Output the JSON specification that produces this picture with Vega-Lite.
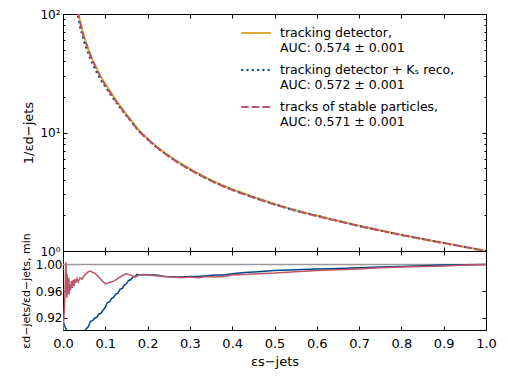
{
  "$schema": "https://vega.github.io/schema/vega-lite/v6.json",
  "padding": {"left": 19, "top": 7, "right": 5, "bottom": 5},
  "bounds": "flush",
  "spacing": 0,
  "config": {
    "font": "DejaVu Sans",
    "view": {"stroke": "#000", "strokeWidth": 1},
    "axis": {"tickColor": "#000", "labelColor": "#000", "titleColor": "#000", "grid": false, "domain": false, "tickWidth": 1, "labelFontSize": 13, "titleFontSize": 13, "titleFontWeight": "normal", "labelFont": "DejaVu Sans", "titleFont": "DejaVu Sans"}
  },
  "datasets": {
    "top": [
      {"eps":0.03,"val":135,"series":"det"},{"eps":0.034,"val":115,"series":"det"},{"eps":0.037,"val":100,"series":"det"},{"eps":0.04,"val":89,"series":"det"},{"eps":0.045,"val":75.5,"series":"det"},{"eps":0.05,"val":64.5,"series":"det"},{"eps":0.055,"val":57,"series":"det"},{"eps":0.06,"val":50.5,"series":"det"},{"eps":0.07,"val":41,"series":"det"},{"eps":0.08,"val":34.5,"series":"det"},{"eps":0.09,"val":29.4,"series":"det"},{"eps":0.1,"val":25.8,"series":"det"},{"eps":0.11,"val":22.7,"series":"det"},{"eps":0.12,"val":20,"series":"det"},{"eps":0.13,"val":17.8,"series":"det"},{"eps":0.14,"val":15.9,"series":"det"},{"eps":0.15,"val":14.2,"series":"det"},{"eps":0.16,"val":12.8,"series":"det"},{"eps":0.17,"val":11.5,"series":"det"},{"eps":0.18,"val":10.4,"series":"det"},{"eps":0.19,"val":9.6,"series":"det"},{"eps":0.2,"val":8.9,"series":"det"},{"eps":0.225,"val":7.45,"series":"det"},{"eps":0.25,"val":6.4,"series":"det"},{"eps":0.275,"val":5.6,"series":"det"},{"eps":0.3,"val":4.95,"series":"det"},{"eps":0.35,"val":3.98,"series":"det"},{"eps":0.4,"val":3.33,"series":"det"},{"eps":0.45,"val":2.87,"series":"det"},{"eps":0.5,"val":2.5,"series":"det"},{"eps":0.55,"val":2.21,"series":"det"},{"eps":0.6,"val":1.99,"series":"det"},{"eps":0.65,"val":1.8,"series":"det"},{"eps":0.7,"val":1.635,"series":"det"},{"eps":0.75,"val":1.495,"series":"det"},{"eps":0.8,"val":1.37,"series":"det"},{"eps":0.85,"val":1.265,"series":"det"},{"eps":0.9,"val":1.17,"series":"det"},{"eps":0.95,"val":1.082,"series":"det"},{"eps":1.0,"val":1,"series":"det"},
      {"eps":0.03,"val":118,"series":"ks"},{"eps":0.034,"val":101,"series":"ks"},{"eps":0.037,"val":89.5,"series":"ks"},{"eps":0.04,"val":79.2,"series":"ks"},{"eps":0.045,"val":67.5,"series":"ks"},{"eps":0.05,"val":58.1,"series":"ks"},{"eps":0.055,"val":51.6,"series":"ks"},{"eps":0.06,"val":46.2,"series":"ks"},{"eps":0.07,"val":37.8,"series":"ks"},{"eps":0.08,"val":32.0,"series":"ks"},{"eps":0.09,"val":27.5,"series":"ks"},{"eps":0.1,"val":24.3,"series":"ks"},{"eps":0.11,"val":21.5,"series":"ks"},{"eps":0.12,"val":19.1,"series":"ks"},{"eps":0.13,"val":17.1,"series":"ks"},{"eps":0.14,"val":15.4,"series":"ks"},{"eps":0.15,"val":13.8,"series":"ks"},{"eps":0.16,"val":12.56,"series":"ks"},{"eps":0.17,"val":11.3,"series":"ks"},{"eps":0.18,"val":10.24,"series":"ks"},{"eps":0.19,"val":9.45,"series":"ks"},{"eps":0.2,"val":8.76,"series":"ks"},{"eps":0.225,"val":7.33,"series":"ks"},{"eps":0.25,"val":6.29,"series":"ks"},{"eps":0.275,"val":5.49,"series":"ks"},{"eps":0.3,"val":4.86,"series":"ks"},{"eps":0.35,"val":3.92,"series":"ks"},{"eps":0.4,"val":3.28,"series":"ks"},{"eps":0.45,"val":2.84,"series":"ks"},{"eps":0.5,"val":2.48,"series":"ks"},{"eps":0.55,"val":2.19,"series":"ks"},{"eps":0.6,"val":1.98,"series":"ks"},{"eps":0.65,"val":1.79,"series":"ks"},{"eps":0.7,"val":1.627,"series":"ks"},{"eps":0.75,"val":1.489,"series":"ks"},{"eps":0.8,"val":1.366,"series":"ks"},{"eps":0.85,"val":1.262,"series":"ks"},{"eps":0.9,"val":1.169,"series":"ks"},{"eps":0.95,"val":1.081,"series":"ks"},{"eps":1.0,"val":1,"series":"ks"},
      {"eps":0.03,"val":130,"series":"stable"},{"eps":0.034,"val":111.5,"series":"stable"},{"eps":0.037,"val":96.5,"series":"stable"},{"eps":0.04,"val":86.3,"series":"stable"},{"eps":0.045,"val":73.4,"series":"stable"},{"eps":0.05,"val":62.9,"series":"stable"},{"eps":0.055,"val":55.8,"series":"stable"},{"eps":0.06,"val":49.7,"series":"stable"},{"eps":0.07,"val":40.6,"series":"stable"},{"eps":0.08,"val":34.0,"series":"stable"},{"eps":0.09,"val":28.8,"series":"stable"},{"eps":0.1,"val":25.1,"series":"stable"},{"eps":0.11,"val":22.1,"series":"stable"},{"eps":0.12,"val":19.5,"series":"stable"},{"eps":0.13,"val":17.4,"series":"stable"},{"eps":0.14,"val":15.6,"series":"stable"},{"eps":0.15,"val":14.0,"series":"stable"},{"eps":0.16,"val":12.6,"series":"stable"},{"eps":0.17,"val":11.3,"series":"stable"},{"eps":0.18,"val":10.21,"series":"stable"},{"eps":0.19,"val":9.45,"series":"stable"},{"eps":0.2,"val":8.76,"series":"stable"},{"eps":0.225,"val":7.33,"series":"stable"},{"eps":0.25,"val":6.29,"series":"stable"},{"eps":0.275,"val":5.49,"series":"stable"},{"eps":0.3,"val":4.86,"series":"stable"},{"eps":0.35,"val":3.91,"series":"stable"},{"eps":0.4,"val":3.28,"series":"stable"},{"eps":0.45,"val":2.83,"series":"stable"},{"eps":0.5,"val":2.47,"series":"stable"},{"eps":0.55,"val":2.19,"series":"stable"},{"eps":0.6,"val":1.97,"series":"stable"},{"eps":0.65,"val":1.79,"series":"stable"},{"eps":0.7,"val":1.624,"series":"stable"},{"eps":0.75,"val":1.487,"series":"stable"},{"eps":0.8,"val":1.364,"series":"stable"},{"eps":0.85,"val":1.261,"series":"stable"},{"eps":0.9,"val":1.167,"series":"stable"},{"eps":0.95,"val":1.081,"series":"stable"},{"eps":1.0,"val":1,"series":"stable"}
    ],
    "ratio": [
      {"eps":0.0,"val":0.915,"series":"ks"},{"eps":0.004,"val":0.908,"series":"ks"},{"eps":0.008,"val":0.903,"series":"ks"},{"eps":0.012,"val":0.895,"series":"ks"},{"eps":0.03,"val":0.88,"series":"ks"},{"eps":0.05,"val":0.898,"series":"ks"},{"eps":0.055,"val":0.904,"series":"ks"},{"eps":0.06,"val":0.907,"series":"ks"},{"eps":0.065,"val":0.915,"series":"ks"},{"eps":0.07,"val":0.916,"series":"ks"},{"eps":0.075,"val":0.92,"series":"ks"},{"eps":0.08,"val":0.921,"series":"ks"},{"eps":0.085,"val":0.926,"series":"ks"},{"eps":0.09,"val":0.927,"series":"ks"},{"eps":0.095,"val":0.932,"series":"ks"},{"eps":0.1,"val":0.936,"series":"ks"},{"eps":0.105,"val":0.943,"series":"ks"},{"eps":0.11,"val":0.944,"series":"ks"},{"eps":0.115,"val":0.949,"series":"ks"},{"eps":0.12,"val":0.951,"series":"ks"},{"eps":0.125,"val":0.956,"series":"ks"},{"eps":0.13,"val":0.957,"series":"ks"},{"eps":0.135,"val":0.963,"series":"ks"},{"eps":0.14,"val":0.964,"series":"ks"},{"eps":0.145,"val":0.969,"series":"ks"},{"eps":0.15,"val":0.971,"series":"ks"},{"eps":0.155,"val":0.976,"series":"ks"},{"eps":0.16,"val":0.977,"series":"ks"},{"eps":0.165,"val":0.981,"series":"ks"},{"eps":0.17,"val":0.982,"series":"ks"},{"eps":0.175,"val":0.985,"series":"ks"},{"eps":0.18,"val":0.984,"series":"ks"},{"eps":0.19,"val":0.985,"series":"ks"},{"eps":0.2,"val":0.984,"series":"ks"},{"eps":0.22,"val":0.984,"series":"ks"},{"eps":0.24,"val":0.982,"series":"ks"},{"eps":0.26,"val":0.981,"series":"ks"},{"eps":0.28,"val":0.981,"series":"ks"},{"eps":0.3,"val":0.982,"series":"ks"},{"eps":0.32,"val":0.982,"series":"ks"},{"eps":0.34,"val":0.983,"series":"ks"},{"eps":0.36,"val":0.984,"series":"ks"},{"eps":0.38,"val":0.984,"series":"ks"},{"eps":0.4,"val":0.986,"series":"ks"},{"eps":0.43,"val":0.988,"series":"ks"},{"eps":0.46,"val":0.989,"series":"ks"},{"eps":0.5,"val":0.991,"series":"ks"},{"eps":0.55,"val":0.992,"series":"ks"},{"eps":0.6,"val":0.993,"series":"ks"},{"eps":0.65,"val":0.994,"series":"ks"},{"eps":0.7,"val":0.995,"series":"ks"},{"eps":0.75,"val":0.996,"series":"ks"},{"eps":0.8,"val":0.997,"series":"ks"},{"eps":0.85,"val":0.998,"series":"ks"},{"eps":0.9,"val":0.999,"series":"ks"},{"eps":0.95,"val":0.9995,"series":"ks"},{"eps":1.0,"val":1.0,"series":"ks"},
      {"eps":0.0,"val":0.9,"series":"stable"},{"eps":0.003,"val":0.93,"series":"stable"},{"eps":0.005,"val":0.96,"series":"stable"},{"eps":0.006,"val":0.99,"series":"stable"},{"eps":0.007,"val":1.003,"series":"stable"},{"eps":0.008,"val":0.975,"series":"stable"},{"eps":0.009,"val":0.95,"series":"stable"},{"eps":0.01,"val":0.985,"series":"stable"},{"eps":0.011,"val":0.955,"series":"stable"},{"eps":0.012,"val":0.975,"series":"stable"},{"eps":0.013,"val":0.96,"series":"stable"},{"eps":0.014,"val":0.98,"series":"stable"},{"eps":0.015,"val":0.955,"series":"stable"},{"eps":0.016,"val":0.97,"series":"stable"},{"eps":0.018,"val":0.962,"series":"stable"},{"eps":0.02,"val":0.975,"series":"stable"},{"eps":0.022,"val":0.965,"series":"stable"},{"eps":0.024,"val":0.977,"series":"stable"},{"eps":0.026,"val":0.968,"series":"stable"},{"eps":0.028,"val":0.978,"series":"stable"},{"eps":0.03,"val":0.972,"series":"stable"},{"eps":0.033,"val":0.979,"series":"stable"},{"eps":0.036,"val":0.974,"series":"stable"},{"eps":0.04,"val":0.98,"series":"stable"},{"eps":0.045,"val":0.978,"series":"stable"},{"eps":0.05,"val":0.983,"series":"stable"},{"eps":0.055,"val":0.986,"series":"stable"},{"eps":0.06,"val":0.989,"series":"stable"},{"eps":0.065,"val":0.99,"series":"stable"},{"eps":0.07,"val":0.988,"series":"stable"},{"eps":0.075,"val":0.987,"series":"stable"},{"eps":0.08,"val":0.984,"series":"stable"},{"eps":0.085,"val":0.981,"series":"stable"},{"eps":0.09,"val":0.977,"series":"stable"},{"eps":0.095,"val":0.974,"series":"stable"},{"eps":0.1,"val":0.971,"series":"stable"},{"eps":0.105,"val":0.972,"series":"stable"},{"eps":0.11,"val":0.973,"series":"stable"},{"eps":0.12,"val":0.975,"series":"stable"},{"eps":0.13,"val":0.979,"series":"stable"},{"eps":0.14,"val":0.983,"series":"stable"},{"eps":0.15,"val":0.986,"series":"stable"},{"eps":0.16,"val":0.984,"series":"stable"},{"eps":0.17,"val":0.981,"series":"stable"},{"eps":0.18,"val":0.984,"series":"stable"},{"eps":0.19,"val":0.985,"series":"stable"},{"eps":0.2,"val":0.984,"series":"stable"},{"eps":0.22,"val":0.983,"series":"stable"},{"eps":0.24,"val":0.982,"series":"stable"},{"eps":0.26,"val":0.981,"series":"stable"},{"eps":0.28,"val":0.98,"series":"stable"},{"eps":0.3,"val":0.981,"series":"stable"},{"eps":0.32,"val":0.98,"series":"stable"},{"eps":0.34,"val":0.982,"series":"stable"},{"eps":0.36,"val":0.981,"series":"stable"},{"eps":0.38,"val":0.982,"series":"stable"},{"eps":0.4,"val":0.984,"series":"stable"},{"eps":0.43,"val":0.985,"series":"stable"},{"eps":0.46,"val":0.986,"series":"stable"},{"eps":0.5,"val":0.987,"series":"stable"},{"eps":0.55,"val":0.989,"series":"stable"},{"eps":0.6,"val":0.991,"series":"stable"},{"eps":0.65,"val":0.992,"series":"stable"},{"eps":0.7,"val":0.993,"series":"stable"},{"eps":0.75,"val":0.995,"series":"stable"},{"eps":0.8,"val":0.996,"series":"stable"},{"eps":0.85,"val":0.997,"series":"stable"},{"eps":0.9,"val":0.9975,"series":"stable"},{"eps":0.95,"val":0.999,"series":"stable"},{"eps":1.0,"val":1.0,"series":"stable"}
    ],
    "ref": [{"val": 1.0}]
  },
  "resolve": {"scale": {"color": "independent", "strokeDash": "independent"}, "legend": {"color": "independent", "strokeDash": "independent"}},
  "vconcat": [
    {
      "width": 423,
      "height": 237,
      "data": {"name": "top"},
      "layer": [
        {
          "mark": {"type": "line", "strokeWidth": 2, "clip": true, "interpolate": "monotone"},
          "encoding": {
            "x": {"field": "eps", "type": "quantitative", "scale": {"domain": [0, 1], "nice": false},
                  "axis": {"orient": "bottom", "labels": false, "title": null, "tickSize": -4, "values": [0,0.1,0.2,0.3,0.4,0.5,0.6,0.7,0.8,0.9,1]}},
            "y": {"field": "val", "type": "quantitative", "scale": {"type": "log", "domain": [1, 100], "nice": false},
                  "axis": {"orient": "left", "values": [1, 10, 100], "tickSize": -4, "labelPadding": 7, "labelFontSize": 12, "labelExpr": "datum.value == 100 ? '10²' : datum.value == 10 ? '10¹' : '10⁰'", "title": "1/εd−jets"}},
            "color": {"field": "series", "type": "nominal", "scale": {"domain": ["det", "ks", "stable"], "range": ["#DDAA33", "#004488", "#BB5566"]},
                      "legend": {"orient": "none", "legendX": 177, "legendY": 3, "title": null, "symbolType": "stroke", "symbolSize": 870, "symbolStrokeWidth": 2, "labelFontSize": 12.5, "labelLimit": 0, "labelOffset": 8, "rowPadding": 0, "padding": 0,
                                 "labelExpr": "datum.label == 'det' ? ['tracking detector,', 'AUC: 0.574 ± 0.001'] : datum.label == 'ks' ? ['tracking detector + Kₛ reco,', 'AUC: 0.572 ± 0.001'] : ['tracks of stable particles,', 'AUC: 0.571 ± 0.001']"}},
            "strokeDash": {"field": "series", "type": "nominal", "scale": {"domain": ["det", "ks", "stable"], "range": [[1, 0], [2, 3.3], [7.4, 3.2]]},
                      "legend": {"orient": "none", "legendX": 177, "legendY": 3, "title": null, "symbolType": "stroke", "symbolSize": 870, "symbolStrokeWidth": 2, "labelFontSize": 12.5, "labelLimit": 0, "labelOffset": 8, "rowPadding": 0, "padding": 0,
                                 "labelExpr": "datum.label == 'det' ? ['tracking detector,', 'AUC: 0.574 ± 0.001'] : datum.label == 'ks' ? ['tracking detector + Kₛ reco,', 'AUC: 0.572 ± 0.001'] : ['tracks of stable particles,', 'AUC: 0.571 ± 0.001']"}}
          }
        },
        {
          "mark": {"type": "point", "opacity": 0, "clip": true},
          "encoding": {
            "x": {"field": "eps", "type": "quantitative", "scale": {"domain": [0, 1], "nice": false},
                  "axis": {"orient": "top", "labels": false, "title": null, "tickSize": -4, "values": [0,0.1,0.2,0.3,0.4,0.5,0.6,0.7,0.8,0.9,1]}},
            "y": {"field": "val", "type": "quantitative", "scale": {"type": "log", "domain": [1, 100], "nice": false},
                  "axis": {"orient": "left", "values": [2,3,4,5,6,7,8,9,20,30,40,50,60,70,80,90], "tickSize": -2, "labels": false, "title": null}}
          }
        },
        {
          "mark": {"type": "point", "opacity": 0, "clip": true},
          "encoding": {
            "x": {"field": "eps", "type": "quantitative", "scale": {"domain": [0, 1], "nice": false}, "axis": null},
            "y": {"field": "val", "type": "quantitative", "scale": {"type": "log", "domain": [1, 100], "nice": false},
                  "axis": {"orient": "right", "values": [1, 10, 100], "tickSize": -4, "labels": false, "title": null}}
          }
        },
        {
          "mark": {"type": "point", "opacity": 0, "clip": true},
          "encoding": {
            "x": {"field": "eps", "type": "quantitative", "scale": {"domain": [0, 1], "nice": false}, "axis": null},
            "y": {"field": "val", "type": "quantitative", "scale": {"type": "log", "domain": [1, 100], "nice": false},
                  "axis": {"orient": "right", "values": [2,3,4,5,6,7,8,9,20,30,40,50,60,70,80,90], "tickSize": -2, "labels": false, "title": null}}
          }
        }
      ],
      "resolve": {"axis": {"x": "independent", "y": "independent"}}
    },
    {
      "width": 423,
      "height": 79,
      "layer": [
        {
          "data": {"name": "ref"},
          "mark": {"type": "rule", "color": "#999999", "strokeWidth": 1.5},
          "encoding": {
            "y": {"field": "val", "type": "quantitative", "scale": {"domain": [0.902, 1.02], "nice": false, "zero": false}, "axis": null}
          }
        },
        {
          "data": {"name": "ratio"},
          "mark": {"type": "line", "strokeWidth": 1.5, "clip": true},
          "encoding": {
            "x": {"field": "eps", "type": "quantitative", "scale": {"domain": [0, 1], "nice": false},
                  "axis": {"orient": "bottom", "tickSize": -4, "labelPadding": 11, "values": [0,0.1,0.2,0.3,0.4,0.5,0.6,0.7,0.8,0.9,1], "format": ".1f", "labelFlush": false, "title": "εs−jets", "titlePadding": 5}},
            "y": {"field": "val", "type": "quantitative", "scale": {"domain": [0.902, 1.02], "nice": false, "zero": false},
                  "axis": {"orient": "left", "tickSize": -4, "labelPadding": 5, "labelFontSize": 12, "values": [0.92, 0.96, 1.0], "format": ".2f", "title": "εd−jets/εd−jets, min", "titleFontSize": 11}},
            "color": {"field": "series", "type": "nominal", "scale": {"domain": ["ks", "stable"], "range": ["#004488", "#BB5566"]}, "legend": null}
          }
        },
        {
          "data": {"name": "ratio"},
          "mark": {"type": "point", "opacity": 0, "clip": true},
          "encoding": {
            "x": {"field": "eps", "type": "quantitative", "scale": {"domain": [0, 1], "nice": false},
                  "axis": {"orient": "top", "labels": false, "title": null, "tickSize": -4, "values": [0,0.1,0.2,0.3,0.4,0.5,0.6,0.7,0.8,0.9,1]}},
            "y": {"field": "val", "type": "quantitative", "scale": {"domain": [0.902, 1.02], "nice": false, "zero": false},
                  "axis": {"orient": "right", "tickSize": -4, "labels": false, "title": null, "values": [0.92, 0.96, 1.0]}}
          }
        }
      ],
      "resolve": {"axis": {"x": "independent", "y": "independent"}}
    }
  ]
}
